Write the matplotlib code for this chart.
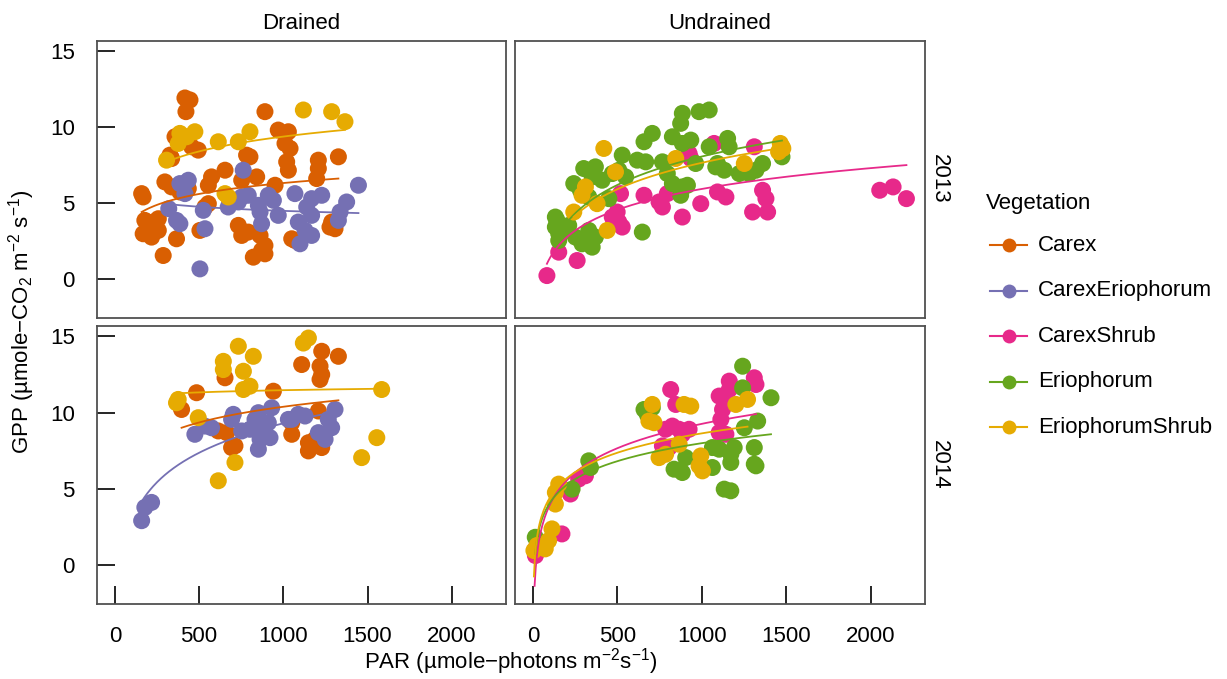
import numpy as np
import matplotlib
matplotlib.use("Agg")
import matplotlib.pyplot as plt
from matplotlib.lines import Line2D

plt.rcParams["font.family"] = ["Liberation Sans", "DejaVu Sans"]
plt.rcParams["mathtext.fontset"] = "custom"
plt.rcParams["mathtext.rm"] = "Liberation Sans"
plt.rcParams["mathtext.it"] = "Liberation Sans:italic"

# ---- data (PAR, GPP) -------------------------------------------------------
VEG = ["Carex", "CarexEriophorum", "CarexShrub", "Eriophorum", "EriophorumShrub"]
VEG_COLORS = ["#D95F02", "#7570B3", "#E7298A", "#66A61E", "#E6AB02"]

# Drained 2013
d13_carex_par = [416, 446, 422, 891, 357, 426, 456, 495, 327, 337, 970, 1030, 1010, 1040,
                 782, 802, 1020, 1030, 1208, 1208, 1198, 1327, 654, 574, 555, 297, 337,
                 386, 436, 159, 168, 753, 842, 951, 178, 228, 258, 198, 168, 218, 258,
                 366, 287, 505, 733, 753, 792, 862, 891, 871, 822, 891, 1050, 1069, 1277,
                 1307, 1287, 555, 535]
d13_carex_gpp = [11.9, 11.77, 11.0, 11.0, 9.35, 9.13, 8.69, 8.47, 8.14, 7.92, 9.79, 9.68,
                 8.91, 8.58, 8.14, 8.03, 7.70, 7.15, 7.81, 7.26, 6.60, 8.03, 7.15, 6.71,
                 6.16, 6.38, 6.05, 5.72, 5.94, 5.61, 5.39, 6.49, 6.71, 6.16, 3.85, 3.74,
                 3.96, 3.41, 2.97, 2.75, 3.19, 2.64, 1.54, 3.19, 3.52, 2.86, 3.08, 2.86,
                 2.20, 1.87, 1.43, 1.65, 2.64, 2.53, 3.41, 3.30, 3.74, 4.95, 4.73]
d13_carexerio_par = [762, 436, 386, 416, 753, 792, 733, 673, 525, 320, 852, 911, 941, 970,
                     862, 871, 1069, 1168, 1228, 1139, 1168, 1089, 1129, 1099, 1168, 1376,
                     1337, 1327, 1446, 366, 386, 535, 505]
d13_carexerio_gpp = [7.15, 6.49, 6.27, 5.61, 5.39, 5.50, 5.06, 4.73, 4.51, 4.62, 4.84,
                     5.50, 5.17, 4.18, 4.40, 3.63, 5.61, 5.28, 5.50, 4.73, 4.18, 3.74,
                     3.19, 2.31, 2.86, 5.06, 4.40, 3.85, 6.16, 3.85, 3.63, 3.30, 0.66]
d13_eriosh_par = [1119, 1287, 1366, 386, 475, 426, 376, 614, 733, 802, 307, 654, 673]
d13_eriosh_gpp = [11.11, 11.0, 10.34, 9.57, 9.68, 9.35, 8.91, 9.02, 9.02, 9.68, 7.81,
                  5.61, 5.39]

# Undrained 2013
u13_carexsh_par = [83, 153, 262, 470, 499, 509, 529, 519, 658, 796, 747, 767, 885, 994,
                   935, 925, 1073, 1093, 1143, 1311, 1301, 1360, 1380, 1390, 2054, 2133,
                   2212]
u13_carexsh_gpp = [0.22, 1.76, 1.21, 4.07, 4.40, 3.74, 3.41, 5.61, 5.50, 5.61, 5.06, 4.73,
                   4.07, 4.95, 7.92, 8.25, 8.91, 5.72, 5.39, 8.69, 4.40, 5.83, 5.28, 4.40,
                   5.83, 6.05, 5.28]
u13_erio_par = [885, 984, 1044, 875, 707, 658, 826, 885, 935, 1153, 1162, 1044, 529, 618,
                668, 767, 301, 370, 351, 410, 470, 509, 549, 242, 281, 331, 450, 796, 826,
                885, 915, 875, 1093, 1133, 1222, 1083, 1281, 1321, 1360, 1475, 143, 133,
                153, 183, 212, 252, 291, 351, 370, 331, 153, 133, 648, 964]
u13_erio_gpp = [10.89, 11.0, 11.11, 10.23, 9.57, 9.02, 9.35, 8.91, 9.13, 9.24, 8.69, 8.69,
                8.14, 7.81, 7.70, 7.70, 7.26, 7.37, 6.71, 6.49, 6.93, 7.15, 6.71, 6.27,
                5.83, 5.39, 5.28, 6.93, 6.27, 6.05, 6.16, 5.50, 7.59, 7.15, 6.93, 7.37,
                6.93, 7.15, 7.59, 8.03, 3.85, 3.41, 2.97, 3.19, 3.52, 2.75, 2.31, 2.09,
                2.75, 3.19, 2.53, 4.07, 3.08, 7.59]
u13_eriosh_par = [420, 311, 291, 242, 380, 440, 489, 846, 1252, 1465, 1480, 1475, 1455]
u13_eriosh_gpp = [8.58, 6.05, 5.50, 4.40, 4.95, 3.19, 7.04, 7.92, 7.59, 8.91, 8.58, 8.69,
                  8.36]

# Drained 2014
d14_carex_par = [1228, 1327, 1109, 1218, 1228, 1218, 654, 485, 396, 941, 614, 664, 693,
                 713, 1050, 1050, 1149, 1149, 1228, 1188, 1208]
d14_carex_gpp = [14.02, 13.69, 13.15, 13.04, 12.49, 12.17, 12.28, 11.3, 10.2, 11.4, 8.79,
                 8.68, 7.70, 7.81, 9.33, 8.57, 8.02, 7.48, 7.70, 8.24, 10.1]
d14_carexerio_par = [159, 178, 218, 475, 535, 574, 703, 693, 753, 802, 832, 852, 871, 891,
                     862, 921, 852, 931, 911, 1089, 1129, 1050, 1208, 1248, 1287, 1307,
                     1267, 1030]
d14_carexerio_gpp = [2.90, 3.77, 4.10, 8.57, 9.11, 9.0, 9.88, 9.55, 8.79, 8.90, 9.55,
                     9.99, 9.11, 8.68, 8.24, 8.35, 7.59, 10.31, 9.33, 9.88, 9.77, 9.55,
                     8.68, 8.24, 9.0, 10.2, 9.55, 9.55]
d14_eriosh_par = [1149, 1119, 733, 822, 644, 644, 763, 763, 802, 376, 366, 495, 713, 614,
                  1584, 1555, 1465]
d14_eriosh_gpp = [14.89, 14.56, 14.35, 13.69, 13.36, 12.82, 12.71, 11.51, 11.73, 10.86,
                  10.64, 9.66, 6.72, 5.52, 11.51, 8.35, 7.04]

# Undrained 2014
u14_carexsh_par = [15, 10, 172, 222, 271, 311, 816, 846, 786, 826, 866, 925, 767, 806,
                   885, 1113, 1143, 1123, 1163, 1163, 1143, 1103, 1311, 1321, 1103]
u14_carexsh_gpp = [0.61, 0.94, 2.03, 4.65, 5.63, 5.85, 11.51, 10.53, 8.90, 9.11, 8.90,
                   8.90, 7.81, 7.70, 8.57, 9.55, 10.64, 10.20, 12.06, 11.51, 8.57, 8.68,
                   12.28, 11.84, 11.08]
u14_erio_par = [1242, 1242, 1410, 1331, 1252, 658, 677, 707, 836, 885, 905, 331, 341, 232,
                14, 1063, 1103, 1063, 1172, 1192, 1172, 1311, 1311, 1321, 1133, 1172]
u14_erio_gpp = [13.04, 11.62, 10.97, 9.44, 9.0, 10.2, 9.88, 10.31, 6.28, 6.06, 7.04, 6.83,
                6.39, 4.97, 1.81, 7.70, 7.59, 6.39, 6.72, 7.70, 7.26, 7.70, 6.61, 6.50,
                4.97, 4.86]
u14_eriosh_par = [707, 687, 717, 895, 935, 1271, 1202, 747, 786, 866, 994, 1004, 984, 153,
                  133, 133, 113, 93, 73, 24, 6]
u14_eriosh_gpp = [10.53, 9.44, 9.33, 10.53, 10.42, 10.86, 10.53, 7.04, 7.26, 7.92, 7.15,
                  6.17, 6.50, 5.30, 4.75, 3.99, 2.36, 1.59, 1.05, 1.27, 0.94]

# fitted curves GPP = a + b*ln(PAR), coefficients
d13_fit_a = [-0.856, 7.176, -0.357]      # Carex, CarexEriophorum, EriophorumShrub
d13_fit_b = [1.037, -0.391, 1.407]
u13_fit_a = [-7.74, -10.6, -9.66]        # CarexShrub, Eriophorum, EriophorumShrub
u13_fit_b = [1.977, 2.70, 2.504]
d14_fit_a = [0.094, -10.0, 10.03]        # Carex, CarexEriophorum, EriophorumShrub
d14_fit_b = [1.489, 2.793, 0.208]
u14_fit_a = [-6.70, -3.79, -4.05]        # CarexShrub, Eriophorum, EriophorumShrub
u14_fit_b = [2.31, 1.705, 1.836]

PANELS = [
    ("2013", "Drained",
     [("Carex", d13_carex_par, d13_carex_gpp),
      ("CarexEriophorum", d13_carexerio_par, d13_carexerio_gpp),
      ("EriophorumShrub", d13_eriosh_par, d13_eriosh_gpp)], d13_fit_a, d13_fit_b),
    ("2013", "Undrained",
     [("CarexShrub", u13_carexsh_par, u13_carexsh_gpp),
      ("Eriophorum", u13_erio_par, u13_erio_gpp),
      ("EriophorumShrub", u13_eriosh_par, u13_eriosh_gpp)], u13_fit_a, u13_fit_b),
    ("2014", "Drained",
     [("Carex", d14_carex_par, d14_carex_gpp),
      ("CarexEriophorum", d14_carexerio_par, d14_carexerio_gpp),
      ("EriophorumShrub", d14_eriosh_par, d14_eriosh_gpp)], d14_fit_a, d14_fit_b),
    ("2014", "Undrained",
     [("CarexShrub", u14_carexsh_par, u14_carexsh_gpp),
      ("Eriophorum", u14_erio_par, u14_erio_gpp),
      ("EriophorumShrub", u14_eriosh_par, u14_eriosh_gpp)], u14_fit_a, u14_fit_b),
]

W, H = 1227, 679
FS = 16
color_of = dict(zip(VEG, VEG_COLORS))


def px_box(x0, y0, x1, y1):
    return [x0 / W, 1 - y1 / H, (x1 - x0) / W, (y1 - y0) / H]


fig = plt.figure(figsize=(W / 100, H / 100), dpi=100)
boxes = {
    ("2013", "Drained"): px_box(97, 40.5, 506, 318),
    ("2013", "Undrained"): px_box(515, 40.5, 925, 318),
    ("2014", "Drained"): px_box(97, 326, 506, 604),
    ("2014", "Undrained"): px_box(515, 326, 925, 604),
}

for year, drain, groups, fit_a, fit_b in PANELS:
    ax = fig.add_axes(boxes[(year, drain)])
    for veg, par, gpp in groups:
        ax.scatter(par, gpp, s=150, color=color_of[veg], edgecolors="none", zorder=2)
    # log curves over the points, spanning each group's PAR range
    for (veg, par, gpp), a, b in zip(groups, fit_a, fit_b):
        xs = np.linspace(min(par), max(par), 200)
        ax.plot(xs, a + b * np.log(xs), color=color_of[veg], lw=1.3, zorder=3)

    ax.set_xlim(-106, 2322)
    ax.set_ylim(-2.57, 15.68)
    for sp in ax.spines.values():
        sp.set_color("#505050")
        sp.set_linewidth(1.3)
    ax.tick_params(direction="in", length=13, width=1.2, color="black",
                   labelsize=FS, labelcolor="black", pad=16)
    ax.set_xticks([0, 500, 1000, 1500, 2000])
    ax.set_yticks([0, 5, 10, 15])
    if drain == "Undrained":
        ax.tick_params(axis="y", left=False, labelleft=False)
        ax.text(1.035, 0.5, year, transform=ax.transAxes, rotation=-90,
                ha="center", va="center", fontsize=FS)
    if year == "2013":
        ax.tick_params(axis="x", bottom=False, labelbottom=False)
        ax.set_title(drain, fontsize=FS, pad=8)

fig.text(22 / W, 1 - 322 / H, "GPP (µmole−CO$_2$ m$^{-2}$ s$^{-1}$)", rotation=90,
         ha="center", va="center", fontsize=FS)
fig.text(511 / W, 1 - 662 / H, "PAR (µmole−photons m$^{-2}$s$^{-1}$)",
         ha="center", va="center", fontsize=FS)

# legend
fig.text(986 / W, 1 - 203 / H, "Vegetation", ha="left", va="center", fontsize=FS)
for i, veg in enumerate(VEG):
    yy = 1 - (245 + 45.5 * i) / H
    fig.add_artist(Line2D([990 / W, 1027 / W], [yy, yy], color=color_of[veg], lw=1.5,
                          transform=fig.transFigure))
    fig.add_artist(Line2D([1008.5 / W], [yy], color=color_of[veg], marker="o",
                          markersize=10, markeredgewidth=0, transform=fig.transFigure))
    fig.text(1038 / W, yy, veg, ha="left", va="center", fontsize=FS)

fig.savefig("out.png", dpi=100)
